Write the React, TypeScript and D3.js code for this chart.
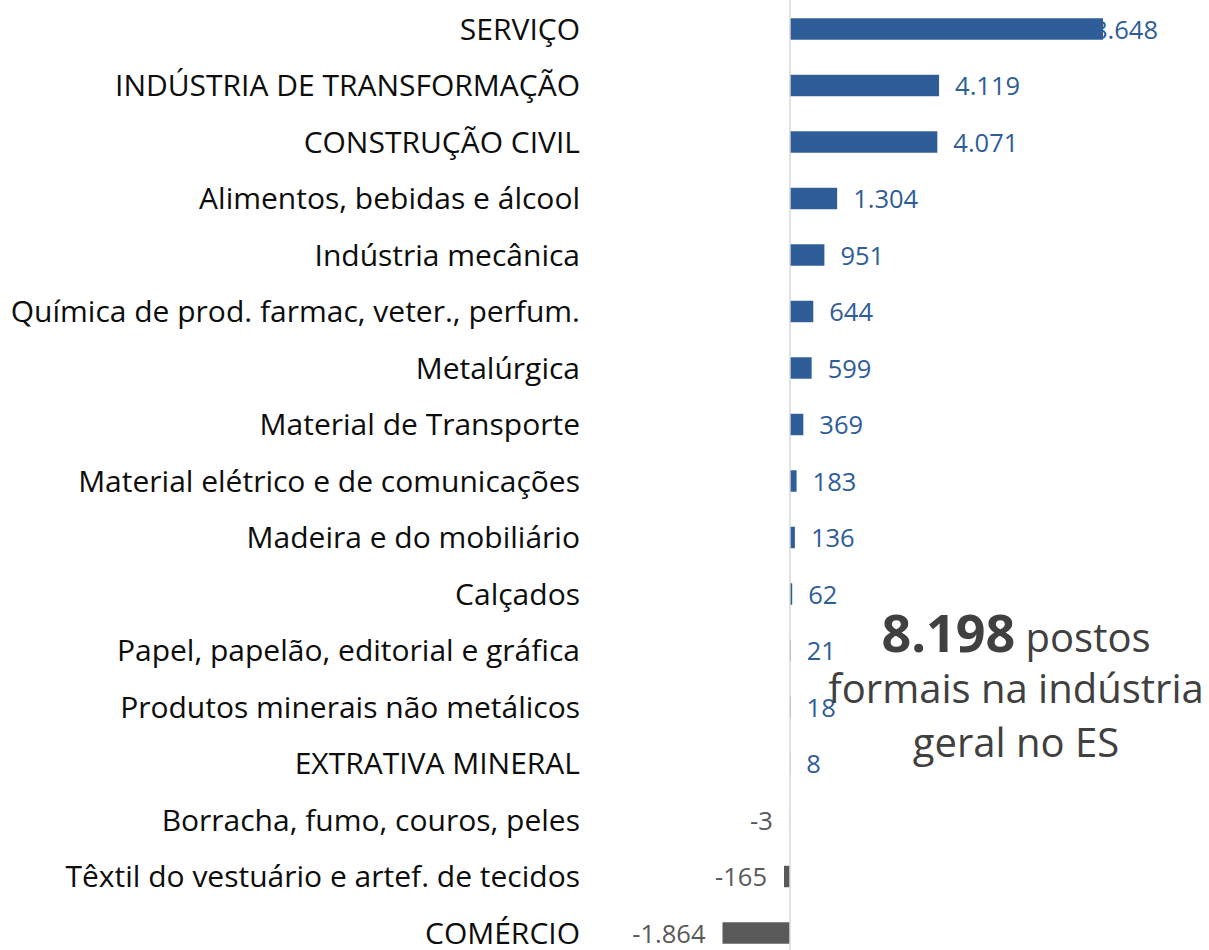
import React from "react";
import * as d3 from "d3";

const categories = [
  "SERVIÇO",
  "INDÚSTRIA DE TRANSFORMAÇÃO",
  "CONSTRUÇÃO CIVIL",
  "Alimentos, bebidas e álcool",
  "Indústria mecânica",
  "Química de prod. farmac, veter., perfum.",
  "Metalúrgica",
  "Material de Transporte",
  "Material elétrico e de comunicações",
  "Madeira e do mobiliário",
  "Calçados",
  "Papel, papelão, editorial e gráfica",
  "Produtos minerais não metálicos",
  "EXTRATIVA MINERAL",
  "Borracha, fumo, couros, peles",
  "Têxtil do vestuário e artef. de tecidos",
  "COMÉRCIO",
];
const values = [8648, 4119, 4071, 1304, 951, 644, 599, 369, 183, 136, 62, 21, 18, 8, -3, -165, -1864];
const valueLabels = ["8.648", "4.119", "4.071", "1.304", "951", "644", "599", "369", "183", "136", "62", "21", "18", "8", "-3", "-165", "-1.864"];
const noteBold = "8.198";
const noteLines = [" postos", "formais na indústria", "geral no ES"];

const W = 1209;
const H = 950;
const FONT = "'Open Sans', 'Noto Sans', sans-serif";
const BLUE = "#2E5D98";
const GREY = "#595959";

export default function App() {
  const x = d3.scaleLinear().domain([-1864, 8648]).range([722.5, 1103]);
  const y = d3
    .scaleBand<string>()
    .domain(categories)
    .range([0.75, 0.75 + 17 * 56.5])
    .paddingInner(0.62)
    .paddingOuter(0.31);
  const x0 = x(0);
  const bw = y.bandwidth();
  const labelMaxRight = 1158;

  return (
    <svg
      width={W}
      height={H}
      style={{ position: "absolute", left: 0, top: 0, display: "block", background: "#fff" }}
      fontFamily={FONT}
    >
      {/* category labels */}
      {categories.map((c) => (
        <text
          key={"c" + c}
          x={580}
          y={(y(c) as number) + bw / 2}
          dy="0.36em"
          textAnchor="end"
          fontSize={30}
          fill="#0D0D0D"
        >
          {c}
        </text>
      ))}
      {/* value labels */}
      {categories.map((c, i) => {
        const v = values[i];
        const cy = (y(c) as number) + bw / 2;
        const pos = v >= 0;
        const estW = valueLabels[i].length * 14.5;
        let lx = pos ? x(v) + 16 : x(v) - 17;
        let anchor = pos ? "start" : "end";
        if (pos && lx + estW > labelMaxRight) {
          lx = labelMaxRight;
          anchor = "end";
        }
        return (
          <text
            key={"v" + c}
            x={lx}
            y={cy}
            dy="0.38em"
            textAnchor={anchor}
            fontSize={25.5}
            fill={pos ? BLUE : GREY}
          >
            {valueLabels[i]}
          </text>
        );
      })}
      {/* bars */}
      {categories.map((c, i) => {
        const v = values[i];
        return (
          <rect
            key={"b" + c}
            x={Math.min(x(v), x0)}
            y={y(c) as number}
            width={Math.abs(x(v) - x0)}
            height={bw}
            fill={v >= 0 ? BLUE : GREY}
          />
        );
      })}
      {/* zero axis */}
      <line x1={x0} x2={x0} y1={0} y2={H} stroke="#D9D9D9" strokeWidth={1.5} />
      {/* annotation */}
      <g fill="#404040" fontSize={40} textAnchor="middle">
        <text x={1016} y={652}>
          <tspan fontWeight="bold" fontSize={52}>{noteBold}</tspan>
          <tspan>{noteLines[0]}</tspan>
        </text>
        <text x={1016} y={703}>{noteLines[1]}</text>
        <text x={1016} y={757}>{noteLines[2]}</text>
      </g>
    </svg>
  );
}
